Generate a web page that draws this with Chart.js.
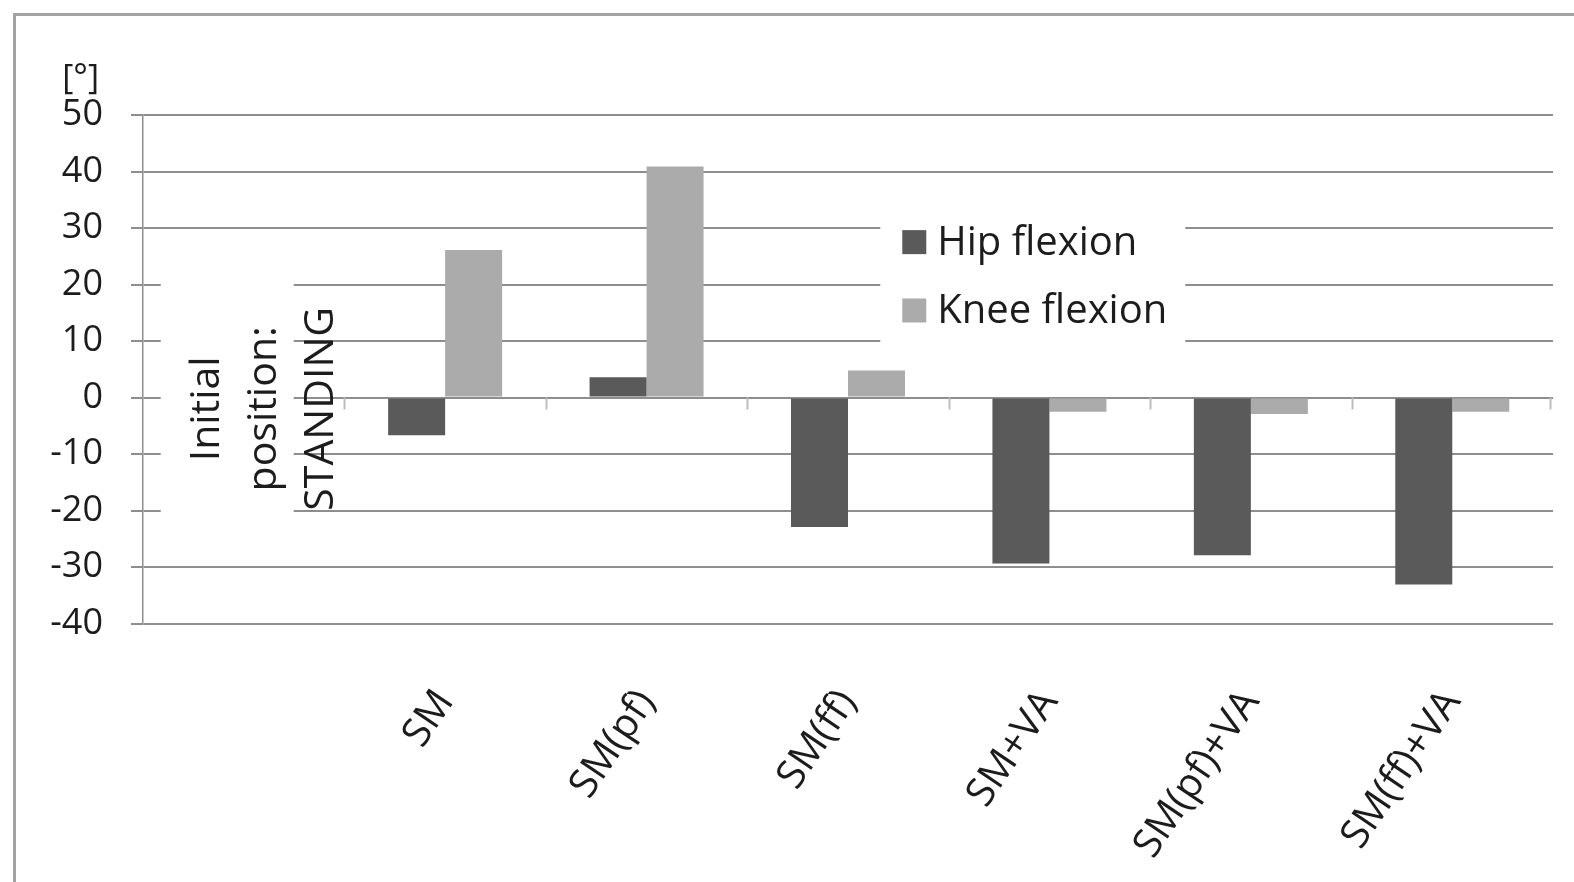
<!DOCTYPE html>
<html>
<head>
<meta charset="utf-8">
<script src="https://cdn.jsdelivr.net/npm/chart.js@4.4.1/dist/chart.umd.min.js"></script>
<style>
  html, body { margin: 0; padding: 0; background: #ffffff; overflow: hidden; }
  #wrap { position: relative; width: 1574px; height: 882px; }
</style>
</head>
<body>
<div id="wrap"><canvas id="c" width="1574" height="882"></canvas></div>
<script>
// ---- data ----
const categories = ['', 'SM', 'SM(pf)', 'SM(ff)', 'SM+VA', 'SM(pf)+VA', 'SM(ff)+VA'];
const hipFlexion  = [null, -6.7, 3.6, -22.9, -29.4, -27.9, -33.1];
const kneeFlexion = [null, 26.1, 40.9, 4.8, -2.5, -2.9, -2.5];
const seriesNames = ['Hip flexion', 'Knee flexion'];
const initialLabel = ['Initial', 'position:', 'STANDING'];
const yUnit = '[°]';
const yMin = -40, yMax = 50, yStep = 10;

const FONT = "'Open Sans', 'Noto Sans', sans-serif";
const TEXT = '#1c1c1c';
const GRID = '#8e8e8e';
const HIP_COLOR = '#5a5a5a';
const KNEE_COLOR = '#ababab';

const decor = {
  id: 'decor',
  beforeDraw(chart) {
    const ctx = chart.ctx;
    ctx.save();
    ctx.strokeStyle = '#a3a3a3';
    ctx.lineWidth = 3;
    ctx.beginPath();
    ctx.moveTo(14.5, 882);
    ctx.lineTo(14.5, 14.5);
    ctx.lineTo(1574, 14.5);
    ctx.stroke();
    ctx.restore();
  },
  beforeDatasetsDraw(chart) {
    const ctx = chart.ctx;
    const ys = chart.scales.y, xs = chart.scales.x;
    const ca = chart.chartArea;
    const y0 = ys.getPixelForValue(0);
    ctx.save();
    // small downward ticks at category boundaries on the zero line
    ctx.strokeStyle = '#bdbdbd';
    ctx.lineWidth = 2;
    const half = (xs.getPixelForValue(1) - xs.getPixelForValue(0)) / 2;
    for (let i = 1; i < categories.length; i++) {
      const x = Math.round(xs.getPixelForValue(i) - half) + 0.5;
      ctx.beginPath();
      ctx.moveTo(x, y0);
      ctx.lineTo(x, y0 + 12);
      ctx.stroke();
    }
    const lastX = Math.round(xs.getPixelForValue(categories.length - 1) + half) - 2.5;
    ctx.beginPath(); ctx.moveTo(lastX, y0); ctx.lineTo(lastX, y0 + 12); ctx.stroke();

    // text box "Initial position: STANDING"
    const bx = xs.getPixelForValue(0);
    ctx.fillStyle = '#ffffff';
    ctx.fillRect(bx - 83, ys.getPixelForValue(27), 133, ys.getPixelForValue(-25) - ys.getPixelForValue(27));
    ctx.fillStyle = TEXT;
    ctx.font = "41px " + FONT;
    ctx.textAlign = 'center';
    ctx.textBaseline = 'alphabetic';
    const yc = ys.getPixelForValue(-2);
    initialLabel.forEach((t, i) => {
      ctx.save();
      ctx.translate(bx - 25 + i * 57, yc);
      ctx.rotate(-Math.PI / 2);
      ctx.fillText(t, 0, 0);
      ctx.restore();
    });

    // legend inside the plot
    const lx = ca.left + (ca.right - ca.left) * 0.5385;
    const ly1 = ys.getPixelForValue(27.5);
    const ly2 = ys.getPixelForValue(15.4);
    ctx.fillStyle = '#ffffff';
    ctx.fillRect(lx - 22, ys.getPixelForValue(35.5), 305, ys.getPixelForValue(7) - ys.getPixelForValue(35.5));
    const colors = [HIP_COLOR, KNEE_COLOR];
    [ly1, ly2].forEach((ly, i) => {
      ctx.fillStyle = colors[i];
      ctx.fillRect(lx, ly - 12, 24, 24);
      ctx.fillStyle = TEXT;
      ctx.font = "40px " + FONT;
      ctx.textAlign = 'left';
      ctx.textBaseline = 'middle';
      ctx.fillText(seriesNames[i], lx + 35, ly + 1);
    });

    // unit label above the y axis
    ctx.font = "34px " + FONT;
    ctx.textAlign = 'right';
    ctx.textBaseline = 'middle';
    ctx.fillText(yUnit, ys.right - 44, ys.getPixelForValue(yMax) - 36);
    ctx.restore();
  }
};

new Chart(document.getElementById('c'), {
  type: 'bar',
  data: {
    labels: categories,
    datasets: [
      { label: seriesNames[0], data: hipFlexion, backgroundColor: HIP_COLOR, borderWidth: 0 },
      { label: seriesNames[1], data: kneeFlexion, backgroundColor: KNEE_COLOR, borderWidth: 0 }
    ]
  },
  options: {
    responsive: false,
    animation: false,
    devicePixelRatio: 1,
    datasets: { bar: { barPercentage: 1.0, categoryPercentage: 0.566 } },
    layout: { padding: { top: 115, right: 21, left: 0, bottom: 0 } },
    plugins: { legend: { display: false }, tooltip: { enabled: false }, title: { display: false } },
    scales: {
      x: {
        grid: { display: false },
        border: { display: false },
        ticks: {
          color: TEXT,
          font: { family: FONT, size: 40 },
          minRotation: 56, maxRotation: 56,
          padding: 50,
          autoSkip: false
        },
        afterFit(scale) { scale.height = 882 - 623.5; scale.paddingLeft = 0; scale.paddingRight = 0; }
      },
      y: {
        min: yMin, max: yMax,
        ticks: { stepSize: yStep, color: TEXT, font: { family: FONT, size: 36 }, padding: 28 },
        grid: { color: GRID, lineWidth: 2, tickLength: 12 },
        border: { display: true, color: GRID, width: 1.5 },
        afterFit(scale) { scale.width = 143; }
      }
    }
  },
  plugins: [decor]
});
</script>
</body>
</html>
